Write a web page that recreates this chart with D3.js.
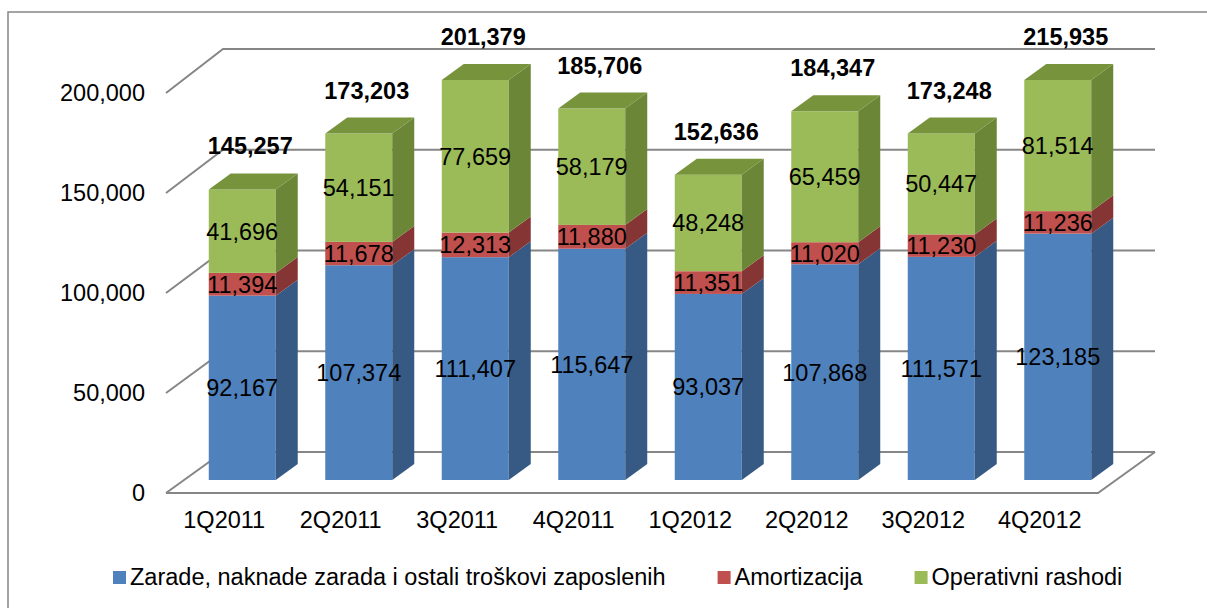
<!DOCTYPE html>
<meta charset="utf-8">
<style>
body { margin: 0; background: #fff; }
svg { font-family: "Liberation Sans", Arial, sans-serif; }
.grid { fill: none; stroke: #868686; stroke-width: 2; }
.frame { fill: none; stroke: #868686; stroke-width: 1.5; }
.lbl { font-size: 23.5px; fill: #000; }
.total { font-size: 23.5px; font-weight: bold; fill: #000; }
</style>
<body>
<script src="https://cdnjs.cloudflare.com/ajax/libs/d3/7.8.5/d3.min.js"></script>
<script>

var categories = ['1Q2011', '2Q2011', '3Q2011', '4Q2011', '1Q2012', '2Q2012', '3Q2012', '4Q2012'];
var zarade = [92167, 107374, 111407, 115647, 93037, 107868, 111571, 123185];
var amortizacija = [11394, 11678, 12313, 11880, 11351, 11020, 11230, 11236];
var operativni = [41696, 54151, 77659, 58179, 48248, 65459, 50447, 81514];
var seriesNames = ['Zarade, naknade zarada i ostali troškovi zaposlenih', 'Amortizacija', 'Operativni rashodi'];
var yTicks = [0, 50000, 100000, 150000, 200000];

var width = 1207,
    height = 608,
    floorLeft = 166,
    floorRight = 1098,
    wallDx = 57,
    barOffX = 18,
    barDx = 22,
    barDy = -16,
    totalGap = 19;

var colors = [
    {front: '#4f81bd', side: '#375a84', top: '#4472a8'},
    {front: '#c0504d', side: '#853634', top: '#a84543'},
    {front: '#9bbb59', side: '#6b8637', top: '#77933c'}
];

var fmt = d3.format(',');

var rows = categories.map(function(c, i) {
    return {cat: c, z: zarade[i], a: amortizacija[i], o: operativni[i]};
});
var stacked = d3.stack().keys(['z', 'a', 'o'])(rows);

var yFront = d3.scaleLinear().domain([0, 200000]).range([493, 93]);
var yBack = d3.scaleLinear().domain([0, 200000]).range([452, 49]);
var yBar = d3.scaleLinear().domain([0, 200000]).range([480, 80]).clamp(true);

var xFloor = d3.scaleBand().domain(categories).range([floorLeft, floorRight]);
var xBar = d3.scaleBand().domain(categories)
    .range([floorLeft + barOffX, floorRight + barOffX])
    .paddingInner(0.425).paddingOuter(0.2125);

var svg = d3.select('body').append('svg')
    .attr('width', width)
    .attr('height', height);

svg.append('rect').attr('class', 'frame')
    .attr('x', 8).attr('y', 12)
    .attr('width', width + 20).attr('height', height + 20);

// back wall + floor grid
var grid = svg.append('g');
grid.selectAll('path.tick')
    .data(yTicks).enter()
    .append('path')
    .attr('class', 'grid')
    .attr('d', function(t) {
        return 'M' + floorLeft + ',' + yFront(t) +
            'L' + (floorLeft + wallDx) + ',' + yBack(t) +
            'L' + (floorRight + wallDx) + ',' + yBack(t);
    });
grid.append('path')
    .attr('class', 'grid')
    .attr('d', 'M' + floorLeft + ',' + yFront(0) +
        'L' + floorRight + ',' + yFront(0) +
        'L' + (floorRight + wallDx) + ',' + yBack(0));

svg.selectAll('.ylbl')
    .data(yTicks).enter()
    .append('text')
    .attr('class', 'lbl')
    .attr('text-anchor', 'end')
    .attr('x', 145)
    .attr('y', function(t) { return yFront(t); })
    .attr('dy', '0.36em')
    .text(function(t) { return fmt(t); });

svg.selectAll('.xlbl')
    .data(categories).enter()
    .append('text')
    .attr('class', 'lbl')
    .attr('text-anchor', 'middle')
    .attr('x', function(c) { return xFloor(c) + xFloor.bandwidth() / 2; })
    .attr('y', 528)
    .text(function(c) { return c; });

// bars
var bw = xBar.bandwidth();

function poly(pts) {
    return 'M' + pts.map(function(p) { return p.join(','); }).join('L') + 'Z';
}

categories.forEach(function(c, i) {
    var x = xBar(c);
    var g = svg.append('g');
    stacked.forEach(function(s, k) {
        var y0 = yBar(s[i][0]), y1 = yBar(s[i][1]);
        g.append('rect')
            .attr('x', x).attr('y', y1)
            .attr('width', bw).attr('height', Math.max(0, y0 - y1))
            .attr('fill', colors[k].front);
        g.append('path')
            .attr('d', poly([[x + bw, y1], [x + bw, y0], [x + bw + barDx, y0 + barDy], [x + bw + barDx, y1 + barDy]]))
            .attr('fill', colors[k].side);
        if (k === stacked.length - 1) {
            g.append('path')
                .attr('d', poly([[x, y1], [x + bw, y1], [x + bw + barDx, y1 + barDy], [x + barDx, y1 + barDy]]))
                .attr('fill', colors[k].top);
        }
    });
    stacked.forEach(function(s, k) {
        var y0 = yBar(s[i][0]), y1 = yBar(s[i][1]);
        g.append('text')
            .attr('class', 'lbl')
            .attr('text-anchor', 'middle')
            .attr('x', x + bw / 2)
            .attr('y', (y0 + y1) / 2)
            .attr('dy', '0.36em')
            .text(fmt(s[i].data[s.key]));
    });
    var total = zarade[i] + amortizacija[i] + operativni[i];
    g.append('text')
        .attr('class', 'total')
        .attr('text-anchor', 'middle')
        .attr('x', x + bw / 2 + 8)
        .attr('y', yBar(total) + barDy - totalGap)
        .text(fmt(total));
});

// legend
var legend = svg.append('g');
var lx = 113;
seriesNames.forEach(function(name, k) {
    legend.append('rect')
        .attr('x', lx).attr('y', 571)
        .attr('width', 13).attr('height', 13)
        .attr('fill', colors[k].front);
    var t = legend.append('text')
        .attr('class', 'lbl')
        .attr('x', lx + 17)
        .attr('y', 585)
        .text(name);
    lx += 17 + t.node().getComputedTextLength() + 52;
});

</script>
